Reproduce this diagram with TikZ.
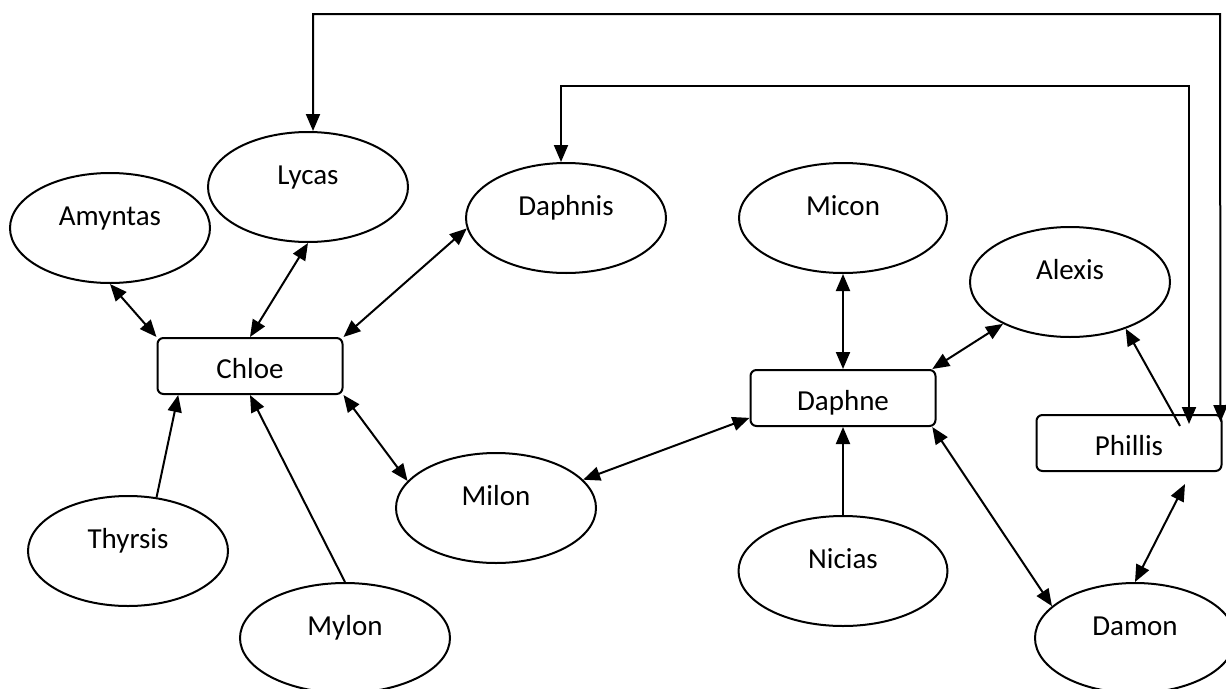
\documentclass[tikz,border=0pt]{standalone}
\usepackage{fontspec}
\setmainfont{Carlito}
\usepackage{tikz}
\usetikzlibrary{positioning, arrows.meta, calc, shapes.geometric}

\begin{document}
\begin{tikzpicture}[
      x=1pt, y=-1pt,
      font=\fontsize{29}{34}\selectfont,
      pers/.style={
        draw, ellipse, line width=2pt, inner sep=0pt,
        minimum width=200pt, minimum height=110pt,
        text height=20pt, text depth=26pt
      },
      box/.style={
        draw, rectangle, rounded corners=6pt, line width=2pt, inner sep=0pt,
        minimum width=185pt, minimum height=56pt,
        text height=24pt, text depth=0pt
      },
      arr/.style={-{Triangle[length=17pt,width=14pt]}, line width=2pt},
      dbl/.style={{Triangle[length=17pt,width=14pt]}-{Triangle[length=17pt,width=14pt]}, line width=2pt}
    ]
      \useasboundingbox[fill=white] (0,0) rectangle (1226,688);
      % shepherds
      \node[pers] (amyntas) at (110,228) {Amyntas};
      \node[pers] (lycas)   at (308,187) {Lycas};
      \node[pers] (daphnis) at (566,218) {Daphnis};
      \node[pers, minimum width=208pt] (micon) at (843,218) {Micon};
      \node[pers] (alexis)  at (1070,282) {Alexis};
      \node[pers] (thyrsis) at (128,551) {Thyrsis};
      \node[pers, minimum width=210pt] (mylon) at (345,638) {Mylon};
      \node[pers] (milon)   at (496,508) {Milon};
      \node[pers, minimum width=209pt] (nicias) at (843,571) {Nicias};
      \node[pers] (damon)   at (1135,638) {Damon};
      % shepherdesses
      \node[box] (chloe)   at (250,366) {Chloe};
      \node[box] (daphne)  at (843,398) {Daphne};
      \node[box] (phillis) at (1129,443) {Phillis};
      % links
      \foreach \a/\b in {amyntas.south/chloe.north west, lycas.south/chloe.north, daphnis.186/chloe.north east,
                         chloe.south east/milon.163, milon.18/daphne.192, micon.south/daphne.north,
                         daphne.18/alexis.212, daphne.-18.5/damon.159}{\draw[dbl] (\a) -- (\b);}
      \foreach \a/\b in {thyrsis.62/chloe.202, mylon.north/chloe.south, nicias.north/daphne.south}{\draw[arr] (\a) -- (\b);}
      \draw[arr] ($(phillis.north)+(51,12)$) -- (alexis.-40);
      \draw[dbl] ($(phillis.south)+(56,12)$) -- (damon.north);
      \draw[dbl] ($(lycas.north)+(5,0)$) |- (1220,14) -- ($(phillis.north east)+(-2,8)$);
      \draw[dbl] ($(daphnis.north)+(-5,0)$) |- (1189,86) -- ($(phillis.north)+(60,10)$);
    \end{tikzpicture}
\end{document}
